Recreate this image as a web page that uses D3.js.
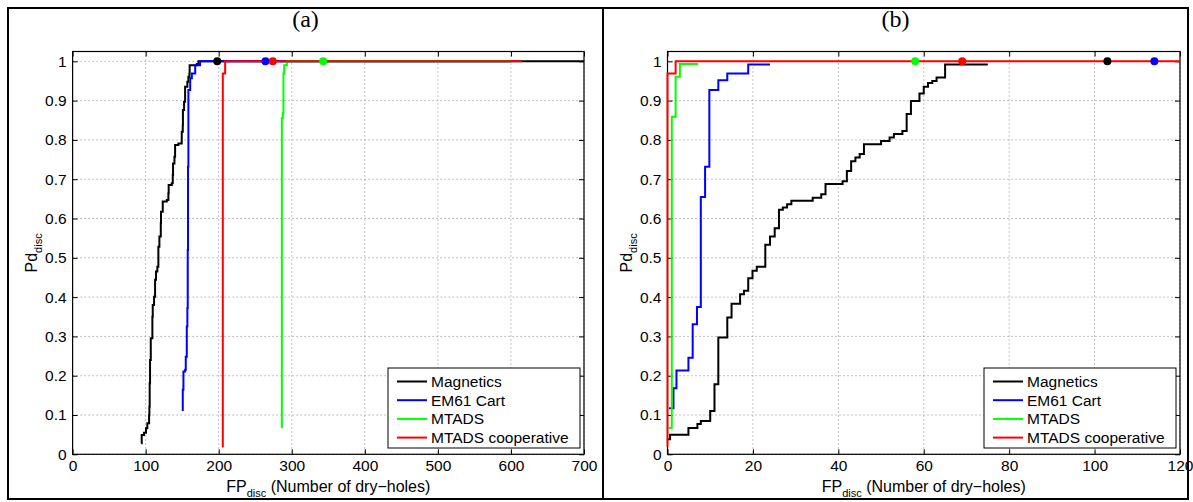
<!DOCTYPE html>
<html>
<head>
<meta charset="UTF-8">
<title>Pd vs FP</title>
<script src="https://cdn.jsdelivr.net/npm/d3@7"></script>
<style>
  body { margin: 0; background: #fff; }
  svg { display: block; font-family: "Liberation Sans", Arial, sans-serif; }
</style>
</head>
<body>
<svg></svg>
<script>
// values
let seriesNames = ["Magnetics", "EM61 Cart", "MTADS", "MTADS cooperative"];
let seriesColors = ["#000000", "#0000ff", "#00ff00", "#ff0000"];
let yTicks = [0, 0.1, 0.2, 0.3, 0.4, 0.5, 0.6, 0.7, 0.8, 0.9, 1];
let xTicksA = [0, 100, 200, 300, 400, 500, 600, 700];
let xTicksB = [0, 20, 40, 60, 80, 100, 120];

// panel (a)
let magA_fp = [93.8, 94.6, 97.8, 100.5, 102.3, 104.7, 105.1, 105.5, 106, 107, 108.3, 109.2, 109.7, 111.5, 112.9, 114.2, 116, 117.4, 118.8, 120.7, 121, 123.4, 128.9, 131.1, 131.5, 135.7, 137.1, 137.5, 139.4, 140.3, 144.8, 149.4, 150.8, 151, 152.6, 154, 157.1, 158.5, 159.9, 160.2, 170, 172.2, 700];
let magA_pd = [0.028, 0.049, 0.055, 0.066, 0.079, 0.1, 0.121, 0.181, 0.24, 0.295, 0.295, 0.35, 0.38, 0.401, 0.444, 0.465, 0.477, 0.528, 0.554, 0.588, 0.617, 0.643, 0.647, 0.664, 0.685, 0.69, 0.711, 0.74, 0.757, 0.787, 0.791, 0.821, 0.838, 0.876, 0.897, 0.935, 0.948, 0.961, 0.969, 0.99, 0.993, 1, 1];
let emA_fp = [149.4, 150.8, 151.7, 154, 154.9, 156.3, 157.1, 157.6, 158, 158.5, 161, 163.2, 167.8, 170, 174.5, 600];
let emA_pd = [0.113, 0.164, 0.211, 0.215, 0.248, 0.325, 0.372, 0.52, 0.732, 0.927, 0.957, 0.969, 0.99, 0.99, 1, 1];
let mtA_fp = [286.4, 286.4, 287.8, 288.6, 289.6, 293.3, 600];
let mtA_pd = [0.066, 0.855, 0.868, 0.969, 0.99, 1, 1];
let coA_fp = [205.6, 205.6, 208.8, 615];
let coA_pd = [0.017, 0.969, 1, 1];
let dotsA = [198, 264, 343, 274];

// panel (b)
let magB_fp = [0, 0.6, 4.9, 7, 7.8, 10, 11, 11.9, 14, 15, 17, 17.9, 18.9, 19.9, 20.9, 22.9, 24, 25.1, 26.1, 27, 28, 29, 34, 36, 37, 41, 42, 43, 44, 45, 46, 50, 52, 53, 55, 56, 57, 59, 60, 61, 62, 63, 65, 75];
let magB_pd = [0.038, 0.05, 0.067, 0.077, 0.085, 0.11, 0.178, 0.297, 0.348, 0.383, 0.407, 0.416, 0.448, 0.467, 0.477, 0.533, 0.554, 0.575, 0.622, 0.628, 0.636, 0.645, 0.653, 0.662, 0.688, 0.695, 0.721, 0.746, 0.755, 0.764, 0.789, 0.797, 0.806, 0.815, 0.823, 0.866, 0.899, 0.918, 0.935, 0.945, 0.95, 0.959, 0.992, 0.992];
let emB_fp = [0.35, 1.4, 2.1, 4.9, 5.9, 6.9, 7.8, 8.8, 9.8, 11.9, 14, 18.9, 24];
let emB_pd = [0.117, 0.168, 0.213, 0.246, 0.331, 0.375, 0.655, 0.732, 0.927, 0.952, 0.969, 0.992, 0.992];
let mtB_fp = [0.3, 1, 1.9, 2.9, 7.2];
let mtB_pd = [0.067, 0.859, 0.961, 0.993, 0.993];
let coB_fp = [0, 0, 1.9, 120];
let coB_pd = [0.02, 0.969, 1, 1];
let dotsB = [103, 114, 58, 69];

let width = 1193, height = 502;
let svg = d3.select("svg").attr("width", width).attr("height", height);

// outer frame and divider
svg.append("rect").attr("x", 8).attr("y", 8).attr("width", 1180).attr("height", 491)
  .attr("fill", "none").attr("stroke", "black").attr("stroke-width", 2);
svg.append("line").attr("x1", 603).attr("x2", 603).attr("y1", 8).attr("y2", 499)
  .attr("stroke", "black").attr("stroke-width", 2);

function drawPanel(p) {
  let x = d3.scaleLinear().domain([p.xTicks[0], p.xTicks[p.xTicks.length - 1]]).range([p.left, p.right]);
  let y = d3.scaleLinear().domain([0, 1.025]).range([454.3, 51.5]);
  let top = y(1.025), bottom = y(0);
  let g = svg.append("g");

  // dotted grid
  g.append("g").selectAll("line").data(p.xTicks).join("line")
    .attr("x1", d => x(d)).attr("x2", d => x(d)).attr("y1", top).attr("y2", bottom)
    .attr("stroke", "#888").attr("stroke-dasharray", "1,3");
  g.append("g").selectAll("line").data(yTicks).join("line")
    .attr("x1", p.left).attr("x2", p.right).attr("y1", d => y(d)).attr("y2", d => y(d))
    .attr("stroke", "#888").attr("stroke-dasharray", "1,3");

  // axes, ticks pointing inward
  let axes = [
    [d3.axisBottom(x).tickValues(p.xTicks).tickSize(-5).tickPadding(6), `translate(0,${bottom})`],
    [d3.axisTop(x).tickValues(p.xTicks).tickSize(-5).tickFormat(""), `translate(0,${top})`],
    [d3.axisLeft(y).tickValues(yTicks).tickSize(-5).tickPadding(6).tickFormat(d3.format("~g")), `translate(${p.left},0)`],
    [d3.axisRight(y).tickValues(yTicks).tickSize(-5).tickFormat(""), `translate(${p.right},0)`]
  ];
  axes.forEach(a => {
    let ga = g.append("g").attr("transform", a[1]).call(a[0]);
    ga.attr("font-size", 15.5).attr("font-family", "Liberation Sans, Arial, sans-serif");
    ga.select(".domain").remove();
    ga.selectAll("text").attr("fill", "black");
  });
  g.append("rect").attr("x", p.left).attr("y", top).attr("width", p.right - p.left).attr("height", bottom - top)
    .attr("fill", "none").attr("stroke", "black").attr("stroke-width", 1.2);

  // curves
  let line = d3.line().x(d => x(d[0])).y(d => y(d[1])).curve(d3.curveStepAfter);
  p.series.forEach((s, i) => {
    g.append("path").datum(d3.zip(s[0], s[1]))
      .attr("d", line).attr("fill", "none")
      .attr("stroke", seriesColors[i]).attr("stroke-width", 2);
  });
  p.dots.forEach((d, i) => {
    g.append("circle").attr("cx", x(d)).attr("cy", y(1)).attr("r", 4)
      .attr("fill", seriesColors[i]);
  });

  // labels
  let cx = (p.left + p.right) / 2;
  g.append("text").attr("x", (p.frameL + p.frameR) / 2).attr("y", 27)
    .attr("text-anchor", "middle").attr("font-family", "Liberation Serif, Times New Roman, serif")
    .attr("font-size", 24).text(p.title);
  let xl = g.append("text").attr("x", cx).attr("y", 492).attr("text-anchor", "middle").attr("font-size", 16);
  xl.append("tspan").text("FP");
  xl.append("tspan").attr("font-size", 11).attr("dy", 5).text("disc");
  xl.append("tspan").attr("dy", -5).text(" (Number of dry\u2212holes)");
  let yl = g.append("text").attr("transform", `translate(${p.left - 36},${(top + bottom) / 2}) rotate(-90)`)
    .attr("text-anchor", "middle").attr("font-size", 16);
  yl.append("tspan").text("Pd");
  yl.append("tspan").attr("font-size", 11).attr("dy", 5).text("disc");

  // legend
  let lx = p.right - 196, ly = 368;
  let lg = g.append("g").attr("transform", `translate(${lx},${ly})`);
  lg.append("rect").attr("width", 192).attr("height", 80).attr("fill", "white").attr("stroke", "black");
  seriesNames.forEach((n, i) => {
    let ry = 13.5 + i * 18.7;
    lg.append("line").attr("x1", 9).attr("x2", 39).attr("y1", ry).attr("y2", ry)
      .attr("stroke", seriesColors[i]).attr("stroke-width", 2);
    lg.append("text").attr("x", 43).attr("y", ry + 5.5).attr("font-size", 15.5).text(n);
  });
}

drawPanel({
  title: "(a)", left: 72.6, right: 584, frameL: 8, frameR: 603, xTicks: xTicksA, dots: dotsA,
  series: [[magA_fp, magA_pd], [emA_fp, emA_pd], [mtA_fp, mtA_pd], [coA_fp, coA_pd]]
});
drawPanel({
  title: "(b)", left: 667.5, right: 1180, frameL: 603, frameR: 1188, xTicks: xTicksB, dots: dotsB,
  series: [[magB_fp, magB_pd], [emB_fp, emB_pd], [mtB_fp, mtB_pd], [coB_fp, coB_pd]]
});
</script>
</body>
</html>
